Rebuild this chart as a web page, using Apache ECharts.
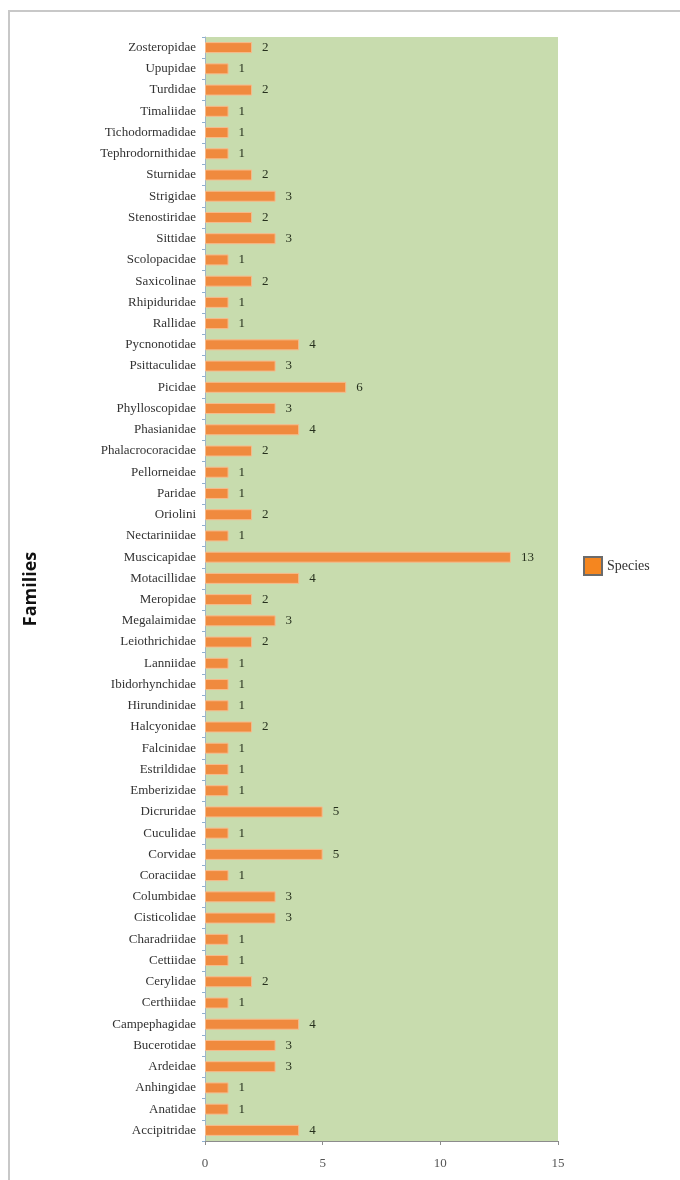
<!DOCTYPE html>
<html lang="en">
<head>
  <meta charset="UTF-8">
  <title>Families</title>
  <script src="https://cdn.jsdelivr.net/npm/echarts@6/dist/echarts.min.js"></script>
  <style>
    html, body { margin: 0; padding: 0; background: #fff; }
    #frame { position: absolute; left: 8px; top: 10px; width: 680px; height: 1180px;
             border-left: 2px solid #c8c8c8; border-top: 2px solid #c8c8c8; }
    #main { position: absolute; left: 0; top: 0; width: 680px; height: 1180px; }
  </style>
</head>
<body>
  <div id="frame"></div>
  <div id="main"></div>
  <script>
    // bottom to top
    var aFamilies = [
      'Accipitridae', 'Anatidae', 'Anhingidae', 'Ardeidae', 'Bucerotidae', 'Campephagidae',
      'Certhiidae', 'Cerylidae', 'Cettiidae', 'Charadriidae', 'Cisticolidae', 'Columbidae',
      'Coraciidae', 'Corvidae', 'Cuculidae', 'Dicruridae', 'Emberizidae', 'Estrildidae',
      'Falcinidae', 'Halcyonidae', 'Hirundinidae', 'Ibidorhynchidae', 'Lanniidae',
      'Leiothrichidae', 'Megalaimidae', 'Meropidae', 'Motacillidae', 'Muscicapidae',
      'Nectariniidae', 'Oriolini', 'Paridae', 'Pellorneidae', 'Phalacrocoracidae',
      'Phasianidae', 'Phylloscopidae', 'Picidae', 'Psittaculidae', 'Pycnonotidae',
      'Rallidae', 'Rhipiduridae', 'Saxicolinae', 'Scolopacidae', 'Sittidae',
      'Stenostiridae', 'Strigidae', 'Sturnidae', 'Tephrodornithidae', 'Tichodormadidae',
      'Timaliidae', 'Turdidae', 'Upupidae', 'Zosteropidae'
    ];
    var aSpecies = [
      4, 1, 1, 3, 3, 4,
      1, 2, 1, 1, 3, 3,
      1, 5, 1, 5, 1, 1,
      1, 2, 1, 1, 1,
      2, 3, 2, 4, 13,
      1, 2, 1, 1, 2,
      4, 3, 6, 3, 4,
      1, 1, 2, 1, 3,
      2, 3, 2, 1, 1,
      1, 2, 1, 2
    ];
    var aTicks = [0, 5, 10, 15];

    var sSerif = '"Liberation Serif", "DejaVu Serif", serif';
    var oChart = echarts.init(document.getElementById('main'));
    var opt = {
      animation: false,
      grid: {
        left: 205, right: 122, top: 37, bottom: 39,
        show: true, backgroundColor: '#c8dcae', borderWidth: 0
      },
      legend: {
        data: ['Species'],
        left: 578, top: 551,
        itemWidth: 18, itemHeight: 18,
        icon: 'rect',
        itemStyle: { color: '#f5861f', borderColor: '#6b6b6b', borderWidth: 2 },
        textStyle: { fontFamily: sSerif, fontSize: 14, color: '#333' }
      },
      xAxis: {
        type: 'value',
        min: 0, max: 15, interval: 5,
        axisLine: { show: true, lineStyle: { color: '#8c8c8c' } },
        axisTick: { show: true, length: 4, lineStyle: { color: '#8c8c8c' } },
        splitLine: { show: false },
        axisLabel: {
          margin: 16, fontFamily: sSerif, fontSize: 13, color: '#555',
          formatter: function (v) { return aTicks.indexOf(v) >= 0 ? String(v) : ''; }
        }
      },
      yAxis: {
        type: 'category',
        data: aFamilies,
        name: 'Families',
        nameLocation: 'middle',
        nameGap: 165,
        nameTextStyle: { fontFamily: '"Open Sans", sans-serif', fontWeight: 'bold', fontSize: 18, color: '#111' },
        axisLine: { show: true, lineStyle: { color: '#9fb6c8' } },
        axisTick: { show: true, length: 3, lineStyle: { color: '#8fb0d0' } },
        axisLabel: { margin: 9, fontFamily: sSerif, fontSize: 13, color: '#333' }
      },
      series: [{
        name: 'Species',
        type: 'bar',
        data: aSpecies,
        barWidth: 11,
        itemStyle: { color: '#f08a3e', borderColor: '#f6bb8c', borderWidth: 1 },
        label: {
          show: true, position: 'right', distance: 10,
          fontFamily: sSerif, fontSize: 13, color: '#26301d'
        }
      }]
    };
    oChart.setOption(opt);
  </script>
</body>
</html>
